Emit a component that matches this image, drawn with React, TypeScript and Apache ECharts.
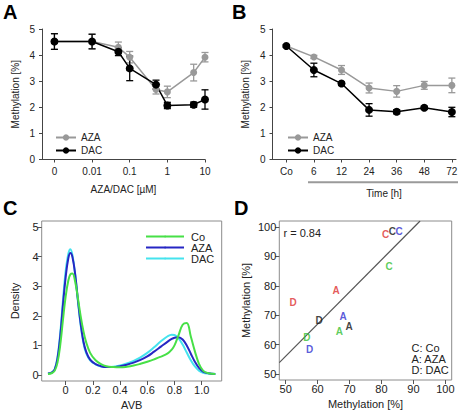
import React, { useEffect, useRef } from 'react';
import * as echarts from 'echarts';

// ---------- Panel A: dose response ----------
const doseValues = [0, 0.01, 0.05, 0.1, 0.5, 1, 5, 10];
const doseTickPos = [-3, -2, -1, 0, 1];
const doseTickLabels = ['0', '0.01', '0.1', '1', '10'];
const aAzaMean = [4.52, 4.52, 4.3, 3.92, 2.68, 2.59, 3.33, 3.92];
const aAzaErr = [0.3, 0.28, 0.2, 0.22, 0.17, 0.22, 0.32, 0.18];
const aDacMean = [4.52, 4.52, 4.13, 3.49, 2.87, 2.07, 2.1, 2.3];
const aDacErr = [0.3, 0.28, 0.15, 0.47, 0.17, 0.12, 0.1, 0.37];

// ---------- Panel B: time course ----------
const timeLabels = ['Co', '6', '12', '24', '36', '48', '72'];
const bAzaMean = [4.35, 3.93, 3.43, 2.74, 2.61, 2.84, 2.84];
const bAzaErr = [0.05, 0.06, 0.17, 0.19, 0.22, 0.15, 0.28];
const bDacMean = [4.35, 3.43, 2.91, 1.9, 1.83, 1.98, 1.82];
const bDacErr = [0.05, 0.26, 0.05, 0.24, 0.08, 0.06, 0.18];

// ---------- Panel C: density of AVB ----------
const avbX = [-0.13, -0.1, -0.08, -0.06, -0.04, -0.02, 0, 0.02, 0.035, 0.05, 0.07, 0.09, 0.11, 0.13, 0.15, 0.18, 0.22, 0.26, 0.3, 0.35, 0.4, 0.45, 0.5, 0.55, 0.6, 0.65, 0.7, 0.75, 0.78, 0.8, 0.83, 0.86, 0.89, 0.92, 0.95, 0.98, 1.01, 1.05, 1.1];
const densCo = [0.04, 0.07, 0.15, 0.42, 1.0, 1.85, 2.65, 3.2, 3.4, 3.43, 3.15, 2.6, 2.0, 1.5, 1.12, 0.75, 0.5, 0.37, 0.3, 0.27, 0.26, 0.28, 0.32, 0.38, 0.45, 0.53, 0.62, 0.73, 0.86, 1.0, 1.35, 1.7, 1.76, 1.3, 0.8, 0.38, 0.15, 0.06, 0.04];
const densAza = [0.05, 0.09, 0.19, 0.55, 1.3, 2.35, 3.3, 3.95, 4.12, 3.98, 3.4, 2.55, 1.75, 1.15, 0.8, 0.52, 0.37, 0.3, 0.27, 0.27, 0.3, 0.35, 0.42, 0.51, 0.63, 0.79, 0.96, 1.13, 1.22, 1.26, 1.28, 1.2, 1.0, 0.72, 0.45, 0.24, 0.12, 0.06, 0.04];
const densDac = [0.05, 0.09, 0.2, 0.6, 1.4, 2.5, 3.5, 4.1, 4.25, 4.05, 3.4, 2.5, 1.7, 1.1, 0.75, 0.5, 0.36, 0.29, 0.27, 0.28, 0.32, 0.39, 0.48, 0.6, 0.75, 0.94, 1.14, 1.31, 1.36, 1.35, 1.24, 1.03, 0.76, 0.5, 0.29, 0.15, 0.08, 0.05, 0.04];
const avbTicks = [0, 0.2, 0.4, 0.6, 0.8, 1.0];
const densTicks = [0, 1, 2, 3, 4, 5];

// ---------- Panel D: scatter ----------
const treatLetters = ['C', 'A', 'D'];
const redX = [81.3, 65.8, 52.3];
const redY = [97.5, 78.3, 74.4];
const blackX = [83.4, 69.9, 60.5];
const blackY = [98.6, 66.1, 68.3];
const blueX = [85.5, 68.0, 57.5];
const blueY = [98.6, 69.4, 58.5];
const greenX = [82.4, 66.8, 56.6];
const greenY = [86.4, 64.4, 62.4];
const fitLine = [[48, 53.9], [92.1, 102]];
const methTicks = [50, 60, 70, 80, 90, 100];
const rText = 'r = 0.84';
const dLegend = ['C: Co', 'A: AZA', 'D: DAC'];

const FONT = 'Liberation Sans, Arial, sans-serif';
const TXT = '#222';

const dosePos = (d: number) => (d === 0 ? -3 : Math.log10(d));

function errSeries(name: string, xs: number[], mean: number[], err: number[], color: string, xi: number) {
  return {
    type: 'custom',
    name,
    xAxisIndex: xi,
    yAxisIndex: xi,
    silent: true,
    encode: { x: 0, y: [1, 2] },
    data: xs.map((x, i) => [x, mean[i] - err[i], mean[i] + err[i]]),
    renderItem: (params: any, api: any) => {
      const x = api.value(0);
      const lo = api.coord([x, api.value(1)]);
      const hi = api.coord([x, api.value(2)]);
      const w = 3.5;
      const st = { stroke: color, lineWidth: 1.3 };
      return {
        type: 'group',
        children: [
          { type: 'line', shape: { x1: lo[0], y1: lo[1], x2: hi[0], y2: hi[1] }, style: st },
          { type: 'line', shape: { x1: lo[0] - w, y1: lo[1], x2: lo[0] + w, y2: lo[1] }, style: st },
          { type: 'line', shape: { x1: hi[0] - w, y1: hi[1], x2: hi[0] + w, y2: hi[1] }, style: st },
        ],
      };
    },
    z: 2,
  };
}

function meanSeries(name: string, xs: number[], mean: number[], color: string, xi: number, size: number) {
  return {
    type: 'line',
    name,
    xAxisIndex: xi,
    yAxisIndex: xi,
    data: xs.map((x, i) => [x, mean[i]]),
    symbol: 'circle',
    symbolSize: size,
    itemStyle: { color },
    lineStyle: { color, width: 1.5 },
    z: 3,
  };
}

function letterSeries(name: string, xs: number[], ys: number[], color: string) {
  return {
    type: 'scatter',
    name,
    xAxisIndex: 3,
    yAxisIndex: 3,
    symbolSize: 2,
    itemStyle: { color: 'rgba(0,0,0,0)' },
    data: xs.map((x, i) => [x, ys[i], treatLetters[i]]),
    label: {
      show: true,
      position: 'inside',
      formatter: (p: any) => p.value[2],
      color,
      fontSize: 10,
      fontWeight: 'bold',
      fontFamily: FONT,
    },
    z: 4,
  };
}

function densSeries(name: string, ys: number[], color: string) {
  return {
    type: 'line',
    name,
    xAxisIndex: 2,
    yAxisIndex: 2,
    data: avbX.map((x, i) => [x, ys[i]]),
    symbol: 'none',
    smooth: 0.4,
    lineStyle: { color, width: 2 },
    itemStyle: { color },
  };
}

const axisLineAB = { show: true, onZero: false, lineStyle: { color: '#444', width: 1 } };
const noLine = { show: false, onZero: false };

export default function App() {
  const ref = useRef<HTMLDivElement>(null);
  useEffect(() => {
    if (!ref.current) return;
    const chart = echarts.init(ref.current, undefined, { renderer: 'svg' });
    const timePos = timeLabels.map((_, i) => i);
    const dosePositions = doseValues.map(dosePos);

    const option: any = {
      animation: false,
      textStyle: { fontFamily: FONT },
      grid: [
        { left: 42, top: 29, width: 163, height: 130.5, outerBoundsMode: 'none' },
        { left: 272.5, top: 29, width: 183.5, height: 130.5, outerBoundsMode: 'none' },
        { left: 41.7, top: 221, width: 180, height: 160, show: true, borderColor: '#8c8c8c', borderWidth: 1, outerBoundsMode: 'none' },
        { left: 279.3, top: 221, width: 172.4, height: 159, show: true, borderColor: '#8c8c8c', borderWidth: 1, outerBoundsMode: 'none' },
      ],
      legend: [
        {
          data: ['A-AZA', 'A-DAC'],
          formatter: (n: string) => n.slice(2),
          orient: 'vertical',
          left: 50,
          top: 127.5,
          itemWidth: 20,
          itemHeight: 8,
          itemGap: 3,
          selectedMode: false,
          textStyle: { fontSize: 10, color: TXT, fontFamily: FONT },
        },
        {
          data: ['B-AZA', 'B-DAC'],
          formatter: (n: string) => n.slice(2),
          orient: 'vertical',
          left: 282,
          top: 127.5,
          itemWidth: 20,
          itemHeight: 8,
          itemGap: 3,
          selectedMode: false,
          textStyle: { fontSize: 10, color: TXT, fontFamily: FONT },
        },
        {
          data: ['C-Co', 'C-AZA', 'C-DAC'],
          formatter: (n: string) => n.slice(2),
          orient: 'vertical',
          left: 140,
          top: 226,
          itemWidth: 38,
          itemHeight: 2,
          itemGap: 0,
          selectedMode: false,
          textStyle: { fontSize: 11, color: TXT, fontFamily: FONT, padding: [0, 0, 0, 2] },
        },
      ],
      xAxis: [
        {
          gridIndex: 0,
          type: 'value',
          min: -3.33,
          max: 1,
          axisLine: axisLineAB,
          axisTick: { show: true, customValues: doseTickPos, length: 3, lineStyle: { color: '#444' } },
          axisLabel: {
            customValues: doseTickPos,
            formatter: (v: number) => doseTickLabels[doseTickPos.indexOf(v)] ?? '',
            fontSize: 10,
            color: TXT,
            margin: 7,
          },
          splitLine: { show: false },
          name: 'AZA/DAC [µM]',
          nameLocation: 'middle',
          nameGap: 25,
          nameTextStyle: { fontSize: 10, color: TXT },
        },
        {
          gridIndex: 1,
          type: 'value',
          min: -0.5,
          max: 6.15,
          axisLine: axisLineAB,
          axisTick: { show: true, customValues: timePos, length: 3, lineStyle: { color: '#444' } },
          axisLabel: {
            customValues: timePos,
            formatter: (v: number) => timeLabels[v] ?? '',
            fontSize: 10,
            color: TXT,
            margin: 7,
          },
          splitLine: { show: false },
        },
        {
          gridIndex: 2,
          type: 'value',
          min: -0.176,
          max: 1.147,
          axisLine: noLine,
          axisTick: { show: true, customValues: avbTicks, length: 4, lineStyle: { color: '#555' } },
          axisLabel: {
            customValues: avbTicks,
            formatter: (v: number) => (v === 0 ? '0' : v.toFixed(1)),
            fontSize: 11,
            color: TXT,
            margin: 3,
          },
          splitLine: { show: false },
          name: 'AVB',
          nameLocation: 'middle',
          nameGap: 18,
          nameTextStyle: { fontSize: 11, color: TXT },
        },
        {
          gridIndex: 3,
          type: 'value',
          min: 48,
          max: 102,
          axisLine: noLine,
          axisTick: { show: true, customValues: methTicks, length: 4, lineStyle: { color: '#555' } },
          axisLabel: { customValues: methTicks, fontSize: 11, color: TXT, margin: 3 },
          splitLine: { show: false },
          name: 'Methylation [%]',
          nameLocation: 'middle',
          nameGap: 18,
          nameTextStyle: { fontSize: 11, color: TXT },
        },
      ],
      yAxis: [
        {
          gridIndex: 0,
          type: 'value',
          min: 0,
          max: 5,
          interval: 1,
          axisLine: axisLineAB,
          axisTick: { show: true, length: 3, lineStyle: { color: '#444' } },
          axisLabel: { fontSize: 10, color: TXT, margin: 7 },
          splitLine: { show: false },
          name: 'Methylation [%]',
          nameLocation: 'middle',
          nameGap: 22,
          nameTextStyle: { fontSize: 10, color: TXT },
        },
        {
          gridIndex: 1,
          type: 'value',
          min: 0,
          max: 5,
          interval: 1,
          axisLine: axisLineAB,
          axisTick: { show: true, length: 3, lineStyle: { color: '#444' } },
          axisLabel: { fontSize: 10, color: TXT, margin: 7 },
          splitLine: { show: false },
          name: 'Methylation [%]',
          nameLocation: 'middle',
          nameGap: 22,
          nameTextStyle: { fontSize: 10, color: TXT },
        },
        {
          gridIndex: 2,
          type: 'value',
          min: -0.2,
          max: 5.2,
          axisLine: noLine,
          axisTick: { show: true, customValues: densTicks, length: 4, lineStyle: { color: '#555' } },
          axisLabel: { customValues: densTicks, fontSize: 11, color: TXT, margin: 3 },
          splitLine: { show: false },
          name: 'Density',
          nameLocation: 'middle',
          nameGap: 21,
          nameTextStyle: { fontSize: 11, color: TXT },
        },
        {
          gridIndex: 3,
          type: 'value',
          min: 48,
          max: 102,
          axisLine: noLine,
          axisTick: { show: true, customValues: methTicks, length: 4, lineStyle: { color: '#555' } },
          axisLabel: { customValues: methTicks, fontSize: 11, color: TXT, margin: 3 },
          splitLine: { show: false },
          name: 'Methylation [%]',
          nameLocation: 'middle',
          nameGap: 28,
          nameTextStyle: { fontSize: 11, color: TXT },
        },
      ],
      series: [
        errSeries('A-AZA-err', dosePositions, aAzaMean, aAzaErr, '#999999', 0),
        meanSeries('A-AZA', dosePositions, aAzaMean, '#999999', 0, 7),
        errSeries('A-DAC-err', dosePositions, aDacMean, aDacErr, '#000000', 0),
        meanSeries('A-DAC', dosePositions, aDacMean, '#000000', 0, 8),
        errSeries('B-AZA-err', timePos, bAzaMean, bAzaErr, '#999999', 1),
        meanSeries('B-AZA', timePos, bAzaMean, '#999999', 1, 7),
        errSeries('B-DAC-err', timePos, bDacMean, bDacErr, '#000000', 1),
        meanSeries('B-DAC', timePos, bDacMean, '#000000', 1, 8),
        densSeries('C-DAC', densDac, '#45e3ee'),
        densSeries('C-AZA', densAza, '#2626c4'),
        densSeries('C-Co', densCo, '#47e047'),
        {
          type: 'line',
          name: 'fit',
          xAxisIndex: 3,
          yAxisIndex: 3,
          data: fitLine,
          symbol: 'none',
          lineStyle: { color: '#555', width: 1.2 },
          z: 2,
        },
        letterSeries('D-red', redX, redY, '#dd3030'),
        letterSeries('D-black', blackX, blackY, '#111111'),
        letterSeries('D-blue', blueX, blueY, '#3030d0'),
        letterSeries('D-green', greenX, greenY, '#33c033'),
      ],
      graphic: [
        { type: 'text', left: 3, top: 2, style: { text: 'A', fontSize: 20, fontWeight: 'bold', fontFamily: FONT, fill: '#000' } },
        { type: 'text', left: 232, top: 2, style: { text: 'B', fontSize: 20, fontWeight: 'bold', fontFamily: FONT, fill: '#000' } },
        { type: 'text', left: 3, top: 198, style: { text: 'C', fontSize: 20, fontWeight: 'bold', fontFamily: FONT, fill: '#000' } },
        { type: 'text', left: 234, top: 198, style: { text: 'D', fontSize: 20, fontWeight: 'bold', fontFamily: FONT, fill: '#000' } },
        { type: 'line', shape: { x1: 308, y1: 182.3, x2: 458, y2: 182.3 }, style: { stroke: '#9a9a9a', lineWidth: 2 } },
        { type: 'text', x: 384, y: 193.5, style: { text: 'Time [h]', fontSize: 10, fontFamily: FONT, fill: TXT, textAlign: 'center', textVerticalAlign: 'middle' } },
        { type: 'text', x: 283.5, y: 232.5, style: { text: rText, fontSize: 11, fontFamily: FONT, fill: TXT, textAlign: 'left', textVerticalAlign: 'middle' } },
        { type: 'text', x: 411.5, y: 348.3, style: { text: dLegend[0], fontSize: 11, fontFamily: FONT, fill: TXT, textAlign: 'left', textVerticalAlign: 'middle' } },
        { type: 'text', x: 411.5, y: 359, style: { text: dLegend[1], fontSize: 11, fontFamily: FONT, fill: TXT, textAlign: 'left', textVerticalAlign: 'middle' } },
        { type: 'text', x: 411.5, y: 369.5, style: { text: dLegend[2], fontSize: 11, fontFamily: FONT, fill: TXT, textAlign: 'left', textVerticalAlign: 'middle' } },
      ],
    };
    chart.setOption(option);
    return () => chart.dispose();
  }, []);
  return <div ref={ref} style={{ position: 'fixed', left: 0, top: 0, width: 461, height: 412, background: '#fff' }} />;
}
